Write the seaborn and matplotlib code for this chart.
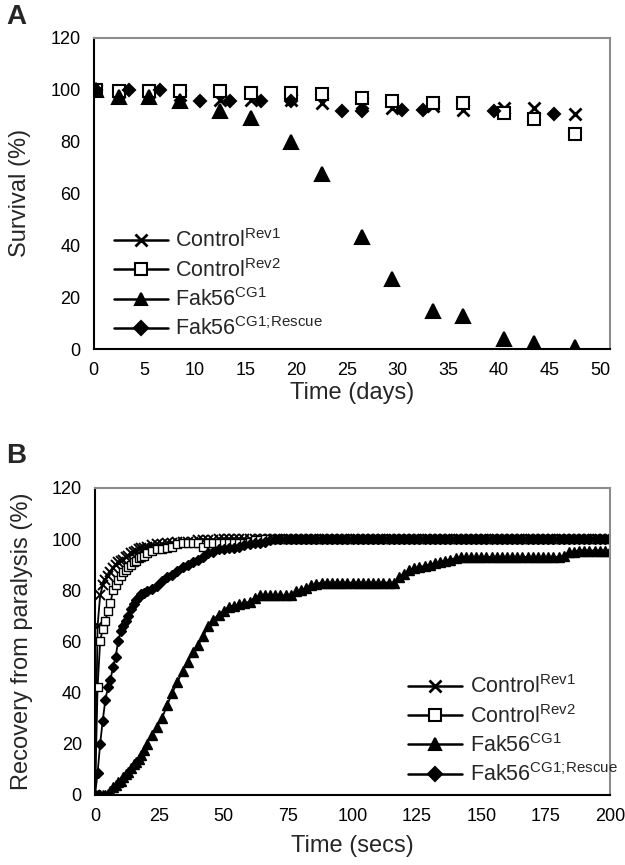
import matplotlib
matplotlib.use('Agg')
import matplotlib.pyplot as plt
import seaborn as sns
from matplotlib.lines import Line2D

# Panel A: survival over days
days_ctrl = [0.2, 2.5, 5.5, 8.5, 12.5, 15.5, 19.5, 22.5, 26.5, 29.5, 33.5, 36.5, 40.5, 43.5, 47.5]
surv_rev1 = [100, 99, 99, 98, 96, 96, 96, 95, 95, 93, 93.5, 92, 93, 93, 90.5]
surv_rev2 = [100, 99.5, 99.5, 99.5, 99.3, 98.7, 98.7, 98.3, 96.8, 95.5, 94.9, 94.9, 91, 88.5, 82.7]
surv_cg1 = [100, 97, 97, 95.5, 91.7, 89.2, 79.6, 67.3, 43, 26.9, 14.7, 12.8, 3.8, 2.5, 0.7]
days_resc = [0.2, 3.5, 6.5, 10.5, 13.5, 16.5, 19.5, 24.5, 26.5, 30.5, 32.5, 39.5, 45.5]
surv_resc = [100, 100, 100, 95.5, 95.5, 95.5, 95.5, 91.7, 91.7, 92.3, 92.3, 91.7, 90.4]

# Panel B: recovery from paralysis, sampled every 1 s to 20 s then every 2 s
secs = list(range(0, 21)) + list(range(22, 201, 2))
rec_rev1 = [0, 66, 78, 82, 84, 85.5, 87, 88.5, 90, 91, 91.5, 92, 93, 93.5, 94.5, 95, 95.5, 96, 96.5, 96.5, 97,
            97.5, 98, 98, 98.5, 98.5, 99, 99, 99, 99, 99.5,
            99.5, 99.5, 99.5, 100, 100, 100, 100, 100, 100, 100,
            100, 100, 100, 100, 100, 100, 100, 100, 100, 100,
            100, 100, 100, 100, 100, 100, 100, 100, 100, 100,
            100, 100, 100, 100, 100, 100, 100, 100, 100, 100,
            100, 100, 100, 100, 100, 100, 100, 100, 100, 100,
            100, 100, 100, 100, 100, 100, 100, 100, 100, 100,
            100, 100, 100, 100, 100, 100, 100, 100, 100, 100,
            100, 100, 100, 100, 100, 100, 100, 100, 100, 100]
rec_rev2 = [0, 42, 60, 65, 68, 72, 75, 80, 82, 84, 85.5, 87, 88, 89, 90, 91, 91.5, 92.5, 93, 93.5, 94.5,
            95.5, 96, 96, 96.5, 97, 98, 98.5, 98.5, 98.5, 98.5,
            97, 98.5, 98.5, 98.5, 98.5, 98.5, 98.5, 98.5, 98.5, 99,
            99.5, 99.5, 100, 100, 100, 100, 100, 100, 100, 100,
            100, 100, 100, 100, 100, 100, 100, 100, 100, 100,
            100, 100, 100, 100, 100, 100, 100, 100, 100, 100,
            100, 100, 100, 100, 100, 100, 100, 100, 100, 100,
            100, 100, 100, 100, 100, 100, 100, 100, 100, 100,
            100, 100, 100, 100, 100, 100, 100, 100, 100, 100,
            100, 100, 100, 100, 100, 100, 100, 100, 100, 100]
rec_cg1 = [0, 0, 0, 0, 0, 0.5, 1.5, 3, 4, 5, 5.5, 7, 8, 9, 10.5, 12, 13, 14, 15.5, 17.5, 20,
           23.5, 26.5, 30, 35, 40, 44, 48.5, 52, 56, 58.5,
           62, 66, 68.5, 70.5, 72, 73.5, 74, 74.5, 75, 75.5,
           77, 78, 78, 78, 78, 78, 78, 78, 79.5, 80,
           81, 82, 82.5, 83, 83, 83, 83, 83, 83, 83,
           83, 83, 83, 83, 83, 83, 83, 83, 85, 86.5,
           88, 88.5, 89, 89.5, 90, 90.5, 91, 91.5, 92, 92.5,
           93, 93, 93, 93, 93, 93, 93, 93, 93, 93,
           93, 93, 93, 93, 93, 93, 93, 93, 93, 93,
           93.5, 95, 95, 95.5, 95.5, 95.5, 95.5, 95.5, 95.5, 95.5]
rec_resc = [0, 8.5, 20, 29, 37, 42, 45, 50, 54, 60, 64, 66, 68, 70, 72.5, 74.5, 76, 77.5, 78.5, 79, 79.5,
            80.5, 81.5, 83.5, 85, 86, 87.5, 89, 90, 91, 92,
            93, 94.5, 95, 96, 96, 96.5, 96.5, 97, 97.5, 98,
            98.5, 98.5, 99, 99.5, 100, 100, 100, 100, 100, 100,
            100, 100, 100, 100, 100, 100, 100, 100, 100, 100,
            100, 100, 100, 100, 100, 100, 100, 100, 100, 100,
            100, 100, 100, 100, 100, 100, 100, 100, 100, 100,
            100, 100, 100, 100, 100, 100, 100, 100, 100, 100,
            100, 100, 100, 100, 100, 100, 100, 100, 100, 100,
            100, 100, 100, 100, 100, 100, 100, 100, 100, 100]

labels = [r'Control$^{\mathrm{Rev1}}$', r'Control$^{\mathrm{Rev2}}$',
          r'Fak56$^{\mathrm{CG1}}$', r'Fak56$^{\mathrm{CG1;\!Rescue}}$']

sns.set_style('white')
plt.rcParams['font.family'] = ['Liberation Sans', 'DejaVu Sans']
plt.rcParams['mathtext.fontset'] = 'custom'
plt.rcParams['mathtext.rm'] = 'Liberation Sans'

# marker styles: (marker, size in A, size in B, face colour)
styles = [('x', 9, 6.5, 'black'), ('s', 8.5, 6, 'white'), ('^', 10, 7.5, 'black'), ('D', 6.5, 5, 'black')]

fig = plt.figure(figsize=(6.25, 8.65), dpi=100)
axA = fig.add_axes([0.150, 0.5965, 0.826, 0.36])
axB = fig.add_axes([0.152, 0.081, 0.824, 0.355])


def style_axes(ax):
    for side in ['left', 'bottom']:
        ax.spines[side].set_color('black')
        ax.spines[side].set_linewidth(1.5)
    for side in ['top', 'right']:
        ax.spines[side].set_color('#8c8c8c')
        ax.spines[side].set_linewidth(1.5)
    ax.tick_params(axis='both', direction='out', length=6, width=1.2, labelsize=13, colors='black')
    ax.set_ylim(0, 120)
    ax.set_yticks(range(0, 121, 20))


def handles(ms):
    out = []
    for m, _, _, fc in styles:
        mew = 2 if m == 'x' else 1.5
        out.append(Line2D([], [], color='black', lw=1.8, marker=m, markersize=ms if m != 'D' else ms * 0.75,
                          mfc=fc, mec='black', mew=mew))
    return out


leg_kw = dict(loc='lower left', frameon=False, fontsize=15.5, handlelength=2.5,
              handletextpad=0.35, labelspacing=0.3, borderpad=0.2, borderaxespad=0.2)

# Panel A: markers only
seriesA = [(days_ctrl, surv_rev1), (days_ctrl, surv_rev2), (days_ctrl, surv_cg1), (days_resc, surv_resc)]
for (x, y), (m, msA, _, fc) in zip(seriesA, styles):
    sns.lineplot(x=x, y=y, ax=axA, color='black', linestyle='none', marker=m, markersize=msA,
                 mfc=fc, mec='black', mew=2 if m == 'x' else 1.5)
style_axes(axA)
axA.set_xlim(0, 51)
axA.set_xticks(range(0, 51, 5))
axA.set_xlabel('Time (days)', fontsize=17, labelpad=2)
axA.set_ylabel('Survival (%)', fontsize=17, labelpad=14)
axA.legend(handles(9), labels, bbox_to_anchor=(0.022, 0.0), **leg_kw)

# Panel B: dense line + markers
seriesB = [rec_rev1, rec_rev2, rec_cg1, rec_resc]
for y, (m, _, msB, fc) in zip(seriesB, styles):
    sns.lineplot(x=secs, y=y, ax=axB, color='black', linewidth=1.3, marker=m, markersize=msB,
                 mfc=fc, mec='black', mew=1.4 if m == 'x' else 1.0)
style_axes(axB)
axB.set_xlim(0, 200)
axB.set_xticks(range(0, 201, 25))
axB.set_xlabel('Time (secs)', fontsize=17, labelpad=7)
axB.set_ylabel('Recovery from paralysis (%)', fontsize=17, labelpad=13)
axB.legend(handles(9), labels, bbox_to_anchor=(0.592, 0.0), **leg_kw)

fig.text(0.01, 0.995, 'A', fontsize=20, fontweight='bold', va='top', ha='left')
fig.text(0.01, 0.488, 'B', fontsize=20, fontweight='bold', va='top', ha='left')

fig.savefig('out.png', dpi=100)
